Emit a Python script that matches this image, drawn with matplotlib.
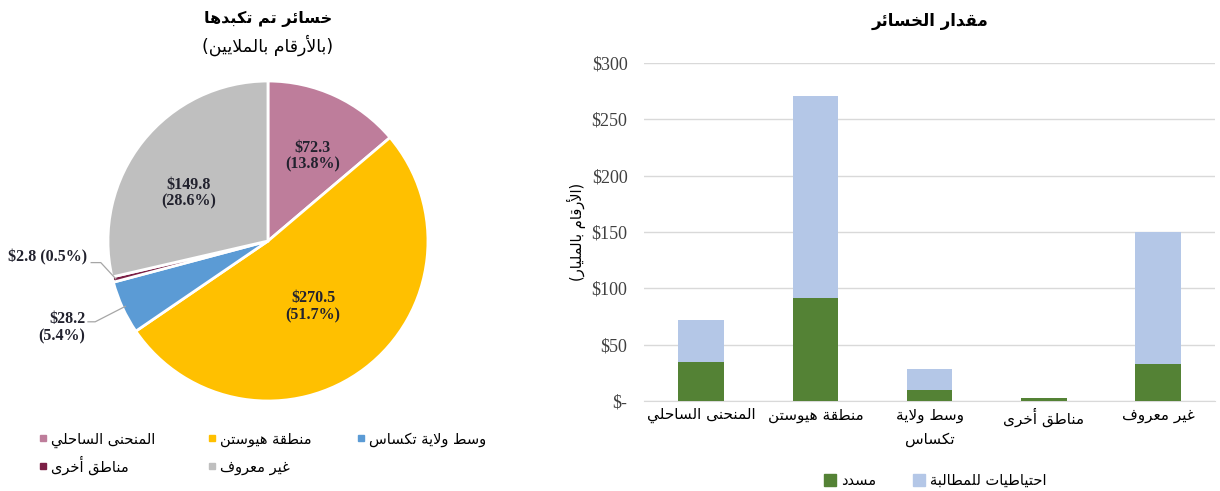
import matplotlib
matplotlib.use("Agg")
import matplotlib.pyplot as plt
from matplotlib.lines import Line2D
import numpy as np

# ---------------- data ----------------
regions = ["المنحنى الساحلي", "منطقة هيوستن", "وسط ولاية تكساس", "مناطق أخرى", "غير معروف"]
bar_tick_labels = ["المنحنى الساحلي", "منطقة هيوستن", "وسط ولاية\nتكساس", "مناطق أخرى", "غير معروف"]
pie_values = [72.3, 270.5, 28.2, 2.8, 149.8]
pie_pcts = [13.8, 51.7, 5.4, 0.5, 28.6]
paid = [35.0, 91.5, 10.0, 2.3, 33.0]
reserves = [37.3, 179.0, 18.2, 0.5, 116.8]
yticks = [0, 50, 100, 150, 200, 250, 300]
ytick_labels = ["$-", "$50", "$100", "$150", "$200", "$250", "$300"]
pie_title = "خسائر تم تكبدها"
pie_subtitle = "(بالأرقام بالملايين)"
bar_title = "مقدار الخسائر"
bar_ylabel = "(الأرقام بالمليار)"
series_names = ["مسدد", "احتياطيات للمطالبة"]

pie_colors = ["#BE7D9B", "#FFC000", "#5B9BD5", "#7B1F45", "#BFBFBF"]
paid_color = "#548235"
res_color = "#B4C7E7"

# ---------------- minimal Arabic shaping ----------------
BASE = {'ء': 0xFE80, 'آ': 0xFE81, 'أ': 0xFE83, 'ؤ': 0xFE85, 'إ': 0xFE87, 'ئ': 0xFE89,
        'ا': 0xFE8D, 'ب': 0xFE8F, 'ة': 0xFE93, 'ت': 0xFE95, 'ث': 0xFE99, 'ج': 0xFE9D,
        'ح': 0xFEA1, 'خ': 0xFEA5, 'د': 0xFEA9, 'ذ': 0xFEAB, 'ر': 0xFEAD, 'ز': 0xFEAF,
        'س': 0xFEB1, 'ش': 0xFEB5, 'ص': 0xFEB9, 'ض': 0xFEBD, 'ط': 0xFEC1, 'ظ': 0xFEC5,
        'ع': 0xFEC9, 'غ': 0xFECD, 'ف': 0xFED1, 'ق': 0xFED5, 'ك': 0xFED9, 'ل': 0xFEDD,
        'م': 0xFEE1, 'ن': 0xFEE5, 'ه': 0xFEE9, 'و': 0xFEED, 'ى': 0xFEEF, 'ي': 0xFEF1}
DUAL = set('ئبتثجحخسشصضطظعغفقكلمنهي')
RIGHT = set('آأؤإادذرزوىة')
LAMALEF = {'آ': 0xFEF5, 'أ': 0xFEF7, 'إ': 0xFEF9, 'ا': 0xFEFB}


def _shape(text):
    tokens = []
    i, n = 0, len(text)
    while i < n:
        c = text[i]
        if c == 'ل' and i + 1 < n and text[i + 1] in LAMALEF:
            tokens.append(('LA', text[i + 1]))
            i += 2
        else:
            tokens.append(('C', c))
            i += 1

    def joins_next(t):
        return t[0] == 'C' and t[1] in DUAL

    def joinable(t):
        return t[0] == 'LA' or t[1] in DUAL or t[1] in RIGHT

    out = []
    for k, t in enumerate(tokens):
        prev = tokens[k - 1] if k > 0 else None
        nxt = tokens[k + 1] if k + 1 < len(tokens) else None
        jp = prev is not None and joins_next(prev) and joinable(t)
        if t[0] == 'LA':
            out.append(chr(LAMALEF[t[1]] + (1 if jp else 0)))
            continue
        c = t[1]
        if c not in BASE:
            out.append(c)
            continue
        b = BASE[c]
        if c in DUAL:
            jn = nxt is not None and joinable(nxt)
            if jp and jn:
                code = b + 3
            elif jp:
                code = b + 1
            elif jn:
                code = b + 2
            else:
                code = b
        elif c in RIGHT:
            code = b + 1 if jp else b
        else:
            code = b
        out.append(chr(code))
    return ''.join(out)


MIRROR = {'(': ')', ')': '('}


def ar(text):
    lines = []
    for line in text.split('\n'):
        s = _shape(line)[::-1]
        lines.append(''.join(MIRROR.get(ch, ch) for ch in s))
    return '\n'.join(lines)


AR_FONT = ['DejaVu Sans']
NUM_FONT = ['Liberation Serif', 'DejaVu Serif']
LABEL_COLOR = '#22222E'

# ---------------- figure ----------------
fig = plt.figure(figsize=(12.2, 4.91), dpi=100)

# ----- pie -----
axp = fig.add_axes([0.0885, 0.1833, 0.2623, 0.6517])
wedges, _ = axp.pie(pie_values, colors=pie_colors, startangle=90, counterclock=False,
                    wedgeprops=dict(edgecolor='white', linewidth=2))
axp.set_xlim(-1, 1)
axp.set_ylim(-1, 1)
axp.set_aspect('equal')

inside = {0: (0.6, -3), 1: (0.5, -3), 4: (0.58, 7.5)}
for idx, (rf, dang) in inside.items():
    w = wedges[idx]
    ang = np.deg2rad((w.theta1 + w.theta2) / 2 + dang)
    axp.text(rf * np.cos(ang), rf * np.sin(ang),
             f"${pie_values[idx]}\n({pie_pcts[idx]}%)", ha='center', va='center',
             fontsize=11.5, fontweight='bold', family=NUM_FONT, color=LABEL_COLOR,
             linespacing=1.1)

# outside labels with leader lines
outside = [
    (3, f"${pie_values[3]} ({pie_pcts[3]}%)", (-1.13, -0.105), (-1.105, -0.135), 0.06),
    (2, f"${pie_values[2]}\n({pie_pcts[2]}%)", (-1.14, -0.54), (-1.125, -0.505), 0.045),
]
for idx, txt, (tx, ty), (kx, ky), hl in outside:
    w = wedges[idx]
    ang = np.deg2rad((w.theta1 + w.theta2) / 2)
    ex, ey = 0.98 * np.cos(ang), 0.98 * np.sin(ang)
    axp.plot([kx, kx + hl, ex], [ky, ky, ey], color='#A6A6A6', lw=0.9, clip_on=False)
    axp.text(tx, ty, txt, ha='right', va='center', fontsize=11.5, fontweight='bold',
             family=NUM_FONT, color=LABEL_COLOR, linespacing=1.1)

fig.text(0.2197, 0.962, ar(pie_title), ha='center', va='center', fontsize=11.5,
         fontweight='bold', family=AR_FONT, color='black')
fig.text(0.2197, 0.908, ar(pie_subtitle), ha='center', va='center', fontsize=12.5,
         family=AR_FONT, color='black')

# pie legend: 3 columns x 2 rows, laid out in figure coordinates
legend_cols = [0.0352, 0.1738, 0.2959]
legend_rows = [0.108, 0.051]
legend_slots = [(0, 0), (1, 0), (2, 0), (0, 1), (1, 1)]
for i, (ci, ri) in enumerate(legend_slots):
    mx, my = legend_cols[ci], legend_rows[ri]
    fig.add_artist(Line2D([mx], [my], marker='s', markersize=5, linestyle='none',
                          markerfacecolor=pie_colors[i], markeredgecolor=pie_colors[i],
                          transform=fig.transFigure))
    fig.text(mx + 0.0065, my - 0.011, ar(regions[i]), ha='left', va='baseline',
             family=AR_FONT, fontsize=10.5, color='black')

# ----- bars -----
axb = fig.add_axes([0.528, 0.1833, 0.468, 0.6884])
x = np.arange(len(regions))
axb.bar(x, paid, width=0.4, color=paid_color, zorder=3)
axb.bar(x, reserves, width=0.4, bottom=paid, color=res_color, zorder=3)
axb.set_xlim(-0.5, len(regions) - 0.5)
axb.set_ylim(0, 300)
axb.set_yticks(yticks)
axb.set_yticklabels(ytick_labels, family=NUM_FONT, fontsize=13, color='#404040')
axb.set_xticks(x)
axb.set_xticklabels([ar(t) for t in bar_tick_labels], family=AR_FONT, fontsize=11,
                    color='black', linespacing=1.7)
axb.tick_params(axis='both', length=0)
axb.tick_params(axis='y', pad=12)
axb.tick_params(axis='x', pad=5)
axb.grid(axis='y', color='#D9D9D9', lw=1, zorder=0)
for s in ['top', 'right', 'left']:
    axb.spines[s].set_visible(False)
axb.spines['bottom'].set_color('#D9D9D9')
axb.set_ylabel(ar(bar_ylabel), family=AR_FONT, fontsize=10.5, color='black', labelpad=4)
axb.set_title(ar(bar_title), family=AR_FONT, fontsize=12, fontweight='bold', pad=27)

bh = [Line2D([], [], marker='s', linestyle='none', markersize=8,
             markerfacecolor=c, markeredgecolor=c) for c in (paid_color, res_color)]
fig.legend(bh, [ar(s) for s in series_names], ncol=2, loc='center',
           bbox_to_anchor=(0.767, 0.022), frameon=False, prop=dict(family=AR_FONT, size=10.5),
           handlelength=0.7, handletextpad=0.4, columnspacing=2.6)

fig.savefig("out.png", dpi=100)
